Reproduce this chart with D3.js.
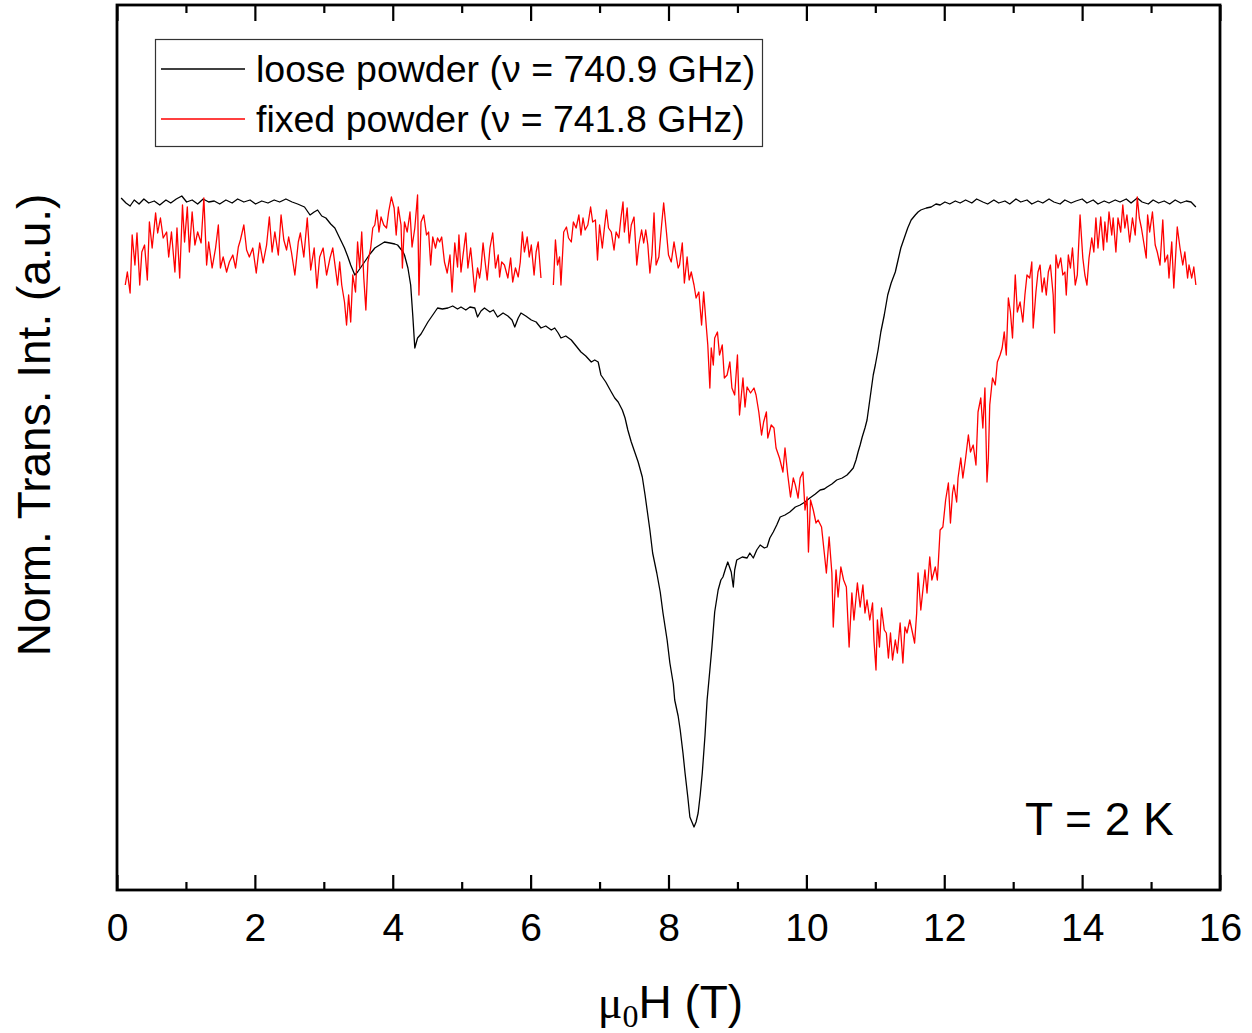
<!DOCTYPE html>
<html>
<head>
<meta charset="utf-8">
<script src="https://cdn.jsdelivr.net/npm/d3@7"></script>
<style>
  body { margin: 0; background: #fff; }
  svg { display: block; font-family: "Liberation Sans", Arial, sans-serif; }
</style>
</head>
<body>
<div id="chart"></div>
<script>
// Transmission vs. field, loose vs. fixed powder (T = 2 K)

// field values (T) and transmitted intensity (a.u.)
const blackCurve = [
  [0.06,692],[0.13,687],[0.19,684],[0.25,690],[0.32,686],[0.39,691],[0.46,687],[0.54,689],[0.62,685],[0.71,690],
  [0.78,687],[0.86,691],[0.94,694],[1.01,688],[1.09,690],[1.17,686],[1.25,691],[1.33,688],[1.41,689],[1.49,686],
  [1.58,690],[1.67,687],[1.75,691],[1.84,688],[1.93,690],[2.01,686],[2.10,689],[2.19,687],[2.28,690],[2.36,688],
  [2.45,691],[2.54,688],[2.62,686],[2.72,683],[2.80,675],[2.86,678],[2.91,680],[2.97,674],[3.03,672],[3.10,666],
  [3.16,662],[3.23,652],[3.30,642],[3.35,633],[3.39,625],[3.45,615],[3.49,618],[3.55,624],[3.59,628],[3.67,636],
  [3.74,642],[3.81,645],[3.88,648],[3.96,647],[4.03,646],[4.07,645],[4.15,638],[4.17,635],[4.22,622],[4.26,605],
  [4.29,575],[4.32,542],[4.36,552],[4.41,556],[4.46,562],[4.51,568],[4.55,572],[4.61,578],[4.65,582],[4.72,581],
  [4.80,582],[4.87,584],[4.94,581],[4.99,583],[5.06,580],[5.12,583],[5.19,582],[5.23,573],[5.28,579],[5.33,582],
  [5.41,578],[5.46,580],[5.52,573],[5.60,577],[5.67,574],[5.73,570],[5.77,563],[5.82,572],[5.86,577],[5.93,574],
  [6.01,570],[6.08,568],[6.15,562],[6.22,564],[6.30,560],[6.35,562],[6.40,557],[6.44,552],[6.51,554],[6.59,550],
  [6.66,544],[6.73,538],[6.80,534],[6.88,528],[6.93,530],[6.98,528],[7.02,515],[7.09,508],[7.17,498],[7.22,492],
  [7.27,488],[7.33,480],[7.37,472],[7.41,460],[7.46,448],[7.51,438],[7.56,428],[7.62,413],[7.66,395],[7.69,380],
  [7.73,360],[7.77,337],[7.83,317],[7.88,298],[7.92,277],[7.98,250],[8.02,227],[8.07,206],[8.09,190],[8.14,174],
  [8.17,160],[8.21,137],[8.24,117],[8.28,93],[8.31,73],[8.34,68],[8.37,63],[8.40,68],[8.43,77],[8.46,95],
  [8.49,117],[8.53,155],[8.56,190],[8.60,220],[8.63,243],[8.67,278],[8.72,300],[8.76,310],[8.79,313],[8.83,322],
  [8.86,328],[8.91,318],[8.94,303],[8.96,320],[8.99,330],[9.07,333],[9.14,332],[9.18,337],[9.23,332],[9.28,340],
  [9.33,345],[9.39,342],[9.43,343],[9.47,352],[9.52,358],[9.57,365],[9.62,373],[9.69,375],[9.76,378],[9.84,383],
  [9.91,385],[9.98,388],[10.05,392],[10.13,396],[10.20,400],[10.26,401],[10.30,403],[10.37,406],[10.44,410],[10.52,412],
  [10.59,415],[10.63,418],[10.68,422],[10.72,430],[10.75,438],[10.78,445],[10.81,453],[10.85,462],[10.88,470],[10.91,485],
  [10.94,500],[10.97,515],[11.00,525],[11.04,540],[11.08,558],[11.13,575],[11.18,595],[11.23,607],[11.29,618],[11.33,630],
  [11.37,642],[11.42,652],[11.47,662],[11.52,670],[11.58,675],[11.62,678],[11.66,680],[11.74,682],[11.81,683],[11.88,686],
  [11.94,685],[12.01,688],[12.08,686],[12.16,689],[12.23,687],[12.31,690],[12.40,687],[12.47,691],[12.56,688],[12.63,686],
  [12.72,690],[12.79,687],[12.88,689],[12.95,686],[13.04,691],[13.11,688],[13.20,690],[13.27,686],[13.36,689],[13.43,687],
  [13.52,691],[13.59,688],[13.68,686],[13.75,690],[13.84,687],[13.91,689],[14.00,691],[14.07,687],[14.16,690],[14.23,686],
  [14.32,689],[14.39,687],[14.48,690],[14.55,688],[14.64,691],[14.71,687],[14.80,692],[14.87,688],[14.96,686],[15.03,690],
  [15.11,687],[15.19,689],[15.27,686],[15.35,690],[15.43,687],[15.51,689],[15.58,688],[15.65,683]
];

// null marks the gap in the fixed powder sweep
const redCurve = [
  [0.12,605],[0.15,618],[0.19,597],[0.22,655],[0.26,625],[0.29,657],[0.33,605],[0.36,638],[0.40,645],[0.44,610],
  [0.47,668],[0.51,642],[0.56,677],[0.59,657],[0.63,672],[0.67,652],[0.72,658],[0.75,633],[0.79,658],[0.84,618],
  [0.87,662],[0.91,612],[0.95,685],[0.98,648],[1.02,683],[1.05,638],[1.09,678],[1.13,645],[1.17,658],[1.22,647],
  [1.26,692],[1.30,625],[1.33,648],[1.38,622],[1.43,642],[1.47,665],[1.50,622],[1.54,633],[1.59,618],[1.63,628],
  [1.68,635],[1.72,622],[1.76,643],[1.79,650],[1.84,665],[1.88,640],[1.92,633],[1.97,642],[2.02,617],[2.07,647],
  [2.12,627],[2.17,645],[2.21,673],[2.25,638],[2.29,658],[2.34,635],[2.38,675],[2.42,650],[2.46,640],[2.49,653],
  [2.53,638],[2.58,615],[2.63,648],[2.66,657],[2.71,633],[2.76,672],[2.81,620],[2.86,642],[2.90,602],[2.94,633],
  [2.99,642],[3.04,615],[3.09,632],[3.13,642],[3.20,605],[3.23,628],[3.26,605],[3.30,588],[3.33,565],[3.36,595],
  [3.39,568],[3.42,615],[3.46,598],[3.49,648],[3.52,622],[3.55,658],[3.58,612],[3.61,580],[3.64,628],[3.68,642],
  [3.71,662],[3.74,665],[3.77,680],[3.80,658],[3.83,673],[3.87,665],[3.91,662],[3.94,678],[3.98,693],[4.02,682],
  [4.05,655],[4.08,683],[4.12,665],[4.14,622],[4.17,668],[4.21,658],[4.25,678],[4.28,643],[4.32,662],[4.36,695],
  [4.38,595],[4.41,668],[4.45,675],[4.49,655],[4.52,658],[4.55,625],[4.58,653],[4.62,642],[4.65,652],[4.68,648],
  [4.71,653],[4.75,628],[4.79,617],[4.83,635],[4.86,598],[4.90,647],[4.94,623],[4.96,655],[4.99,618],[5.02,635],
  [5.06,657],[5.09,622],[5.13,642],[5.15,628],[5.19,598],[5.23,622],[5.26,612],[5.28,622],[5.31,647],[5.34,628],
  [5.37,610],[5.41,642],[5.45,657],[5.49,622],[5.53,635],[5.55,613],[5.58,628],[5.62,625],[5.67,612],[5.71,632],
  [5.74,608],[5.78,622],[5.82,613],[5.85,628],[5.88,658],[5.91,638],[5.95,653],[5.98,633],[6.01,645],[6.05,615],
  [6.08,638],[6.11,648],[6.15,612],[6.24,null],[6.33,605],[6.36,650],[6.39,625],[6.42,633],[6.44,605],[6.48,658],
  [6.52,663],[6.55,652],[6.59,648],[6.62,668],[6.66,662],[6.70,675],[6.73,655],[6.76,672],[6.79,660],[6.83,665],
  [6.87,683],[6.90,668],[6.94,670],[6.97,630],[7.00,665],[7.04,642],[7.07,662],[7.10,680],[7.13,662],[7.17,658],
  [7.21,640],[7.24,658],[7.28,652],[7.31,672],[7.34,688],[7.36,658],[7.40,682],[7.43,647],[7.46,665],[7.50,673],
  [7.54,625],[7.57,645],[7.61,660],[7.64,647],[7.67,660],[7.70,645],[7.73,617],[7.76,635],[7.79,677],[7.82,625],
  [7.86,633],[7.90,665],[7.93,687],[7.97,658],[8.00,635],[8.04,628],[8.08,648],[8.11,635],[8.14,622],[8.16,625],
  [8.20,647],[8.23,607],[8.27,633],[8.30,610],[8.33,618],[8.37,605],[8.40,592],[8.44,598],[8.48,565],[8.51,598],
  [8.55,562],[8.57,545],[8.60,502],[8.62,542],[8.65,525],[8.67,552],[8.71,558],[8.74,535],[8.78,545],[8.81,512],
  [8.85,515],[8.89,528],[8.92,502],[8.96,495],[9.00,535],[9.03,475],[9.08,512],[9.11,483],[9.14,503],[9.19,497],
  [9.24,502],[9.27,495],[9.31,478],[9.35,455],[9.38,468],[9.42,478],[9.44,452],[9.49,465],[9.53,462],[9.56,442],
  [9.61,432],[9.66,418],[9.69,442],[9.73,415],[9.77,393],[9.81,412],[9.84,405],[9.88,392],[9.91,412],[9.95,418],
  [9.98,380],[10.01,393],[10.03,338],[10.06,390],[10.10,380],[10.14,367],[10.17,370],[10.22,363],[10.26,337],[10.29,317],
  [10.33,353],[10.37,317],[10.39,263],[10.43,320],[10.46,293],[10.50,323],[10.54,310],[10.58,303],[10.62,243],[10.66,297],
  [10.69,270],[10.74,307],[10.78,283],[10.82,305],[10.85,277],[10.88,290],[10.92,270],[10.96,287],[10.98,250],[11.01,220],
  [11.03,270],[11.06,243],[11.09,282],[11.13,260],[11.16,257],[11.19,232],[11.22,257],[11.25,230],[11.29,250],[11.32,237],
  [11.36,267],[11.40,227],[11.43,263],[11.46,257],[11.50,270],[11.54,257],[11.57,247],[11.60,277],[11.62,317],[11.66,280],
  [11.69,300],[11.72,320],[11.75,297],[11.79,333],[11.82,310],[11.87,323],[11.90,310],[11.94,360],[11.98,363],[12.02,390],
  [12.06,407],[12.09,367],[12.12,397],[12.14,405],[12.18,388],[12.20,412],[12.24,432],[12.27,412],[12.31,432],[12.35,455],
  [12.38,438],[12.42,445],[12.46,425],[12.49,478],[12.53,492],[12.56,462],[12.59,502],[12.62,408],[12.64,432],[12.66,485],
  [12.70,512],[12.74,505],[12.77,528],[12.81,535],[12.84,542],[12.87,558],[12.90,535],[12.93,592],[12.96,578],[12.99,552],
  [13.03,615],[13.06,578],[13.10,588],[13.14,568],[13.17,595],[13.20,615],[13.24,612],[13.27,628],[13.29,562],[13.33,598],
  [13.36,618],[13.39,625],[13.42,598],[13.45,612],[13.48,595],[13.51,618],[13.54,625],[13.58,595],[13.60,557],[13.62,635],
  [13.65,622],[13.69,632],[13.72,615],[13.75,618],[13.77,595],[13.80,635],[13.83,622],[13.86,642],[13.90,605],[13.93,615],
  [13.97,675],[14.01,632],[14.04,615],[14.07,605],[14.10,632],[14.14,652],[14.17,638],[14.20,672],[14.23,642],[14.27,673],
  [14.31,640],[14.33,668],[14.36,648],[14.39,678],[14.43,655],[14.45,672],[14.49,638],[14.52,672],[14.56,658],[14.59,685],
  [14.62,662],[14.65,675],[14.69,648],[14.73,672],[14.77,655],[14.80,693],[14.83,672],[14.86,662],[14.90,645],[14.93,632],
  [14.95,675],[14.98,658],[15.02,678],[15.06,645],[15.09,638],[15.13,625],[15.17,670],[15.20,628],[15.24,635],[15.26,612],
  [15.30,648],[15.33,602],[15.38,663],[15.42,642],[15.46,625],[15.49,638],[15.53,612],[15.55,625],[15.59,612],[15.62,623],
  [15.65,605]
];

const majorTicks = [0, 2, 4, 6, 8, 10, 12, 14, 16];
const minorTicks = [1, 3, 5, 7, 9, 11, 13, 15];

const seriesLabels = ['loose powder (\u03bd = 740.9 GHz)', 'fixed powder (\u03bd = 741.8 GHz)'];
const seriesColors = ['#000000', '#ff0000'];

function drawChart() {
    const W = 1252, H = 1033;
    const margin = { top: 5, right: 32, bottom: 143, left: 117 };
    const width = W - margin.left - margin.right;
    const height = H - margin.top - margin.bottom;

    const svgRoot = d3.select('#chart').append('svg')
        .attr('width', W)
        .attr('height', H);

    const svg = svgRoot.append('g')
        .attr('transform', `translate(${margin.left},${margin.top})`);

    const x = d3.scaleLinear().domain([0, 16]).range([0, width]);
    const y = d3.scaleLinear().domain([0, 885]).range([height, 0]);

    const line = d3.line()
        .defined(d => d[1] != null)
        .x(d => x(d[0]))
        .y(d => y(d[1]));

    // curves
    svg.append('path')
        .datum(blackCurve)
        .attr('fill', 'none')
        .attr('stroke', seriesColors[0])
        .attr('stroke-width', 1.3)
        .attr('stroke-linejoin', 'round')
        .attr('d', line);

    svg.append('path')
        .datum(redCurve)
        .attr('fill', 'none')
        .attr('stroke', seriesColors[1])
        .attr('stroke-width', 1.3)
        .attr('stroke-linejoin', 'round')
        .attr('d', line);

    // bottom axis, ticks pointing in
    const bottomMajor = svg.append('g')
        .attr('transform', `translate(0,${height})`)
        .call(d3.axisBottom(x).tickValues(majorTicks).tickSize(-15).tickFormat(d3.format('d')));
    bottomMajor.select('.domain').remove();
    bottomMajor.selectAll('line').attr('stroke-width', 2.2);
    bottomMajor.selectAll('text')
        .attr('y', 51)
        .attr('dy', null)
        .style('font-size', '39px')
        .style('font-family', '"Liberation Sans", Arial, sans-serif')
        .attr('fill', '#000');

    const bottomMinor = svg.append('g')
        .attr('transform', `translate(0,${height})`)
        .call(d3.axisBottom(x).tickValues(minorTicks).tickSize(-8).tickFormat(''));
    bottomMinor.select('.domain').remove();
    bottomMinor.selectAll('line').attr('stroke-width', 2.2);

    // top axis, ticks only
    const topMajor = svg.append('g')
        .call(d3.axisTop(x).tickValues(majorTicks).tickSize(-16).tickFormat(''));
    topMajor.select('.domain').remove();
    topMajor.selectAll('line').attr('stroke-width', 2.2);

    const topMinor = svg.append('g')
        .call(d3.axisTop(x).tickValues(minorTicks).tickSize(-8).tickFormat(''));
    topMinor.select('.domain').remove();
    topMinor.selectAll('line').attr('stroke-width', 2.2);

    // frame
    svg.append('rect')
        .attr('x', 0)
        .attr('y', 0)
        .attr('width', width)
        .attr('height', height)
        .attr('fill', 'none')
        .attr('stroke', '#000')
        .attr('stroke-width', 2.8);

    // axis titles
    svg.append('text')
        .attr('transform', `translate(${-67},${420}) rotate(-90)`)
        .attr('text-anchor', 'middle')
        .style('font-size', '46px')
        .text('Norm. Trans. Int. (a.u.)');

    const xTitle = svg.append('text')
        .attr('x', width / 2 + 2)
        .attr('y', height + 128)
        .attr('text-anchor', 'middle')
        .style('font-size', '46px');
    xTitle.append('tspan').style('font-family', '"Liberation Serif", serif').text('\u03bc');
    xTitle.append('tspan').style('font-family', '"Liberation Serif", serif')
        .style('font-size', '32px').attr('dy', 9).text('0');
    xTitle.append('tspan').attr('dy', -9).text('H (T)');

    // temperature note
    svg.append('text')
        .attr('x', 908)
        .attr('y', 830)
        .style('font-size', '46px')
        .text('T = 2 K');

    // legend
    const legend = svgRoot.append('g');
    legend.append('rect')
        .attr('x', 155.5)
        .attr('y', 39.5)
        .attr('width', 607)
        .attr('height', 107)
        .attr('fill', '#fff')
        .attr('stroke', '#333')
        .attr('stroke-width', 1.2);

    const item = legend.selectAll('.item')
        .data(seriesLabels)
        .enter()
        .append('g')
        .attr('class', 'item')
        .attr('transform', (d, i) => `translate(0,${69 + i * 50})`);

    item.append('line')
        .attr('x1', 161)
        .attr('x2', 245)
        .attr('stroke', (d, i) => seriesColors[i])
        .attr('stroke-width', 1.3);

    item.append('text')
        .attr('x', 256)
        .attr('y', 13)
        .style('font-size', '37.5px')
        .text(d => d);
}

drawChart();
</script>
</body>
</html>
